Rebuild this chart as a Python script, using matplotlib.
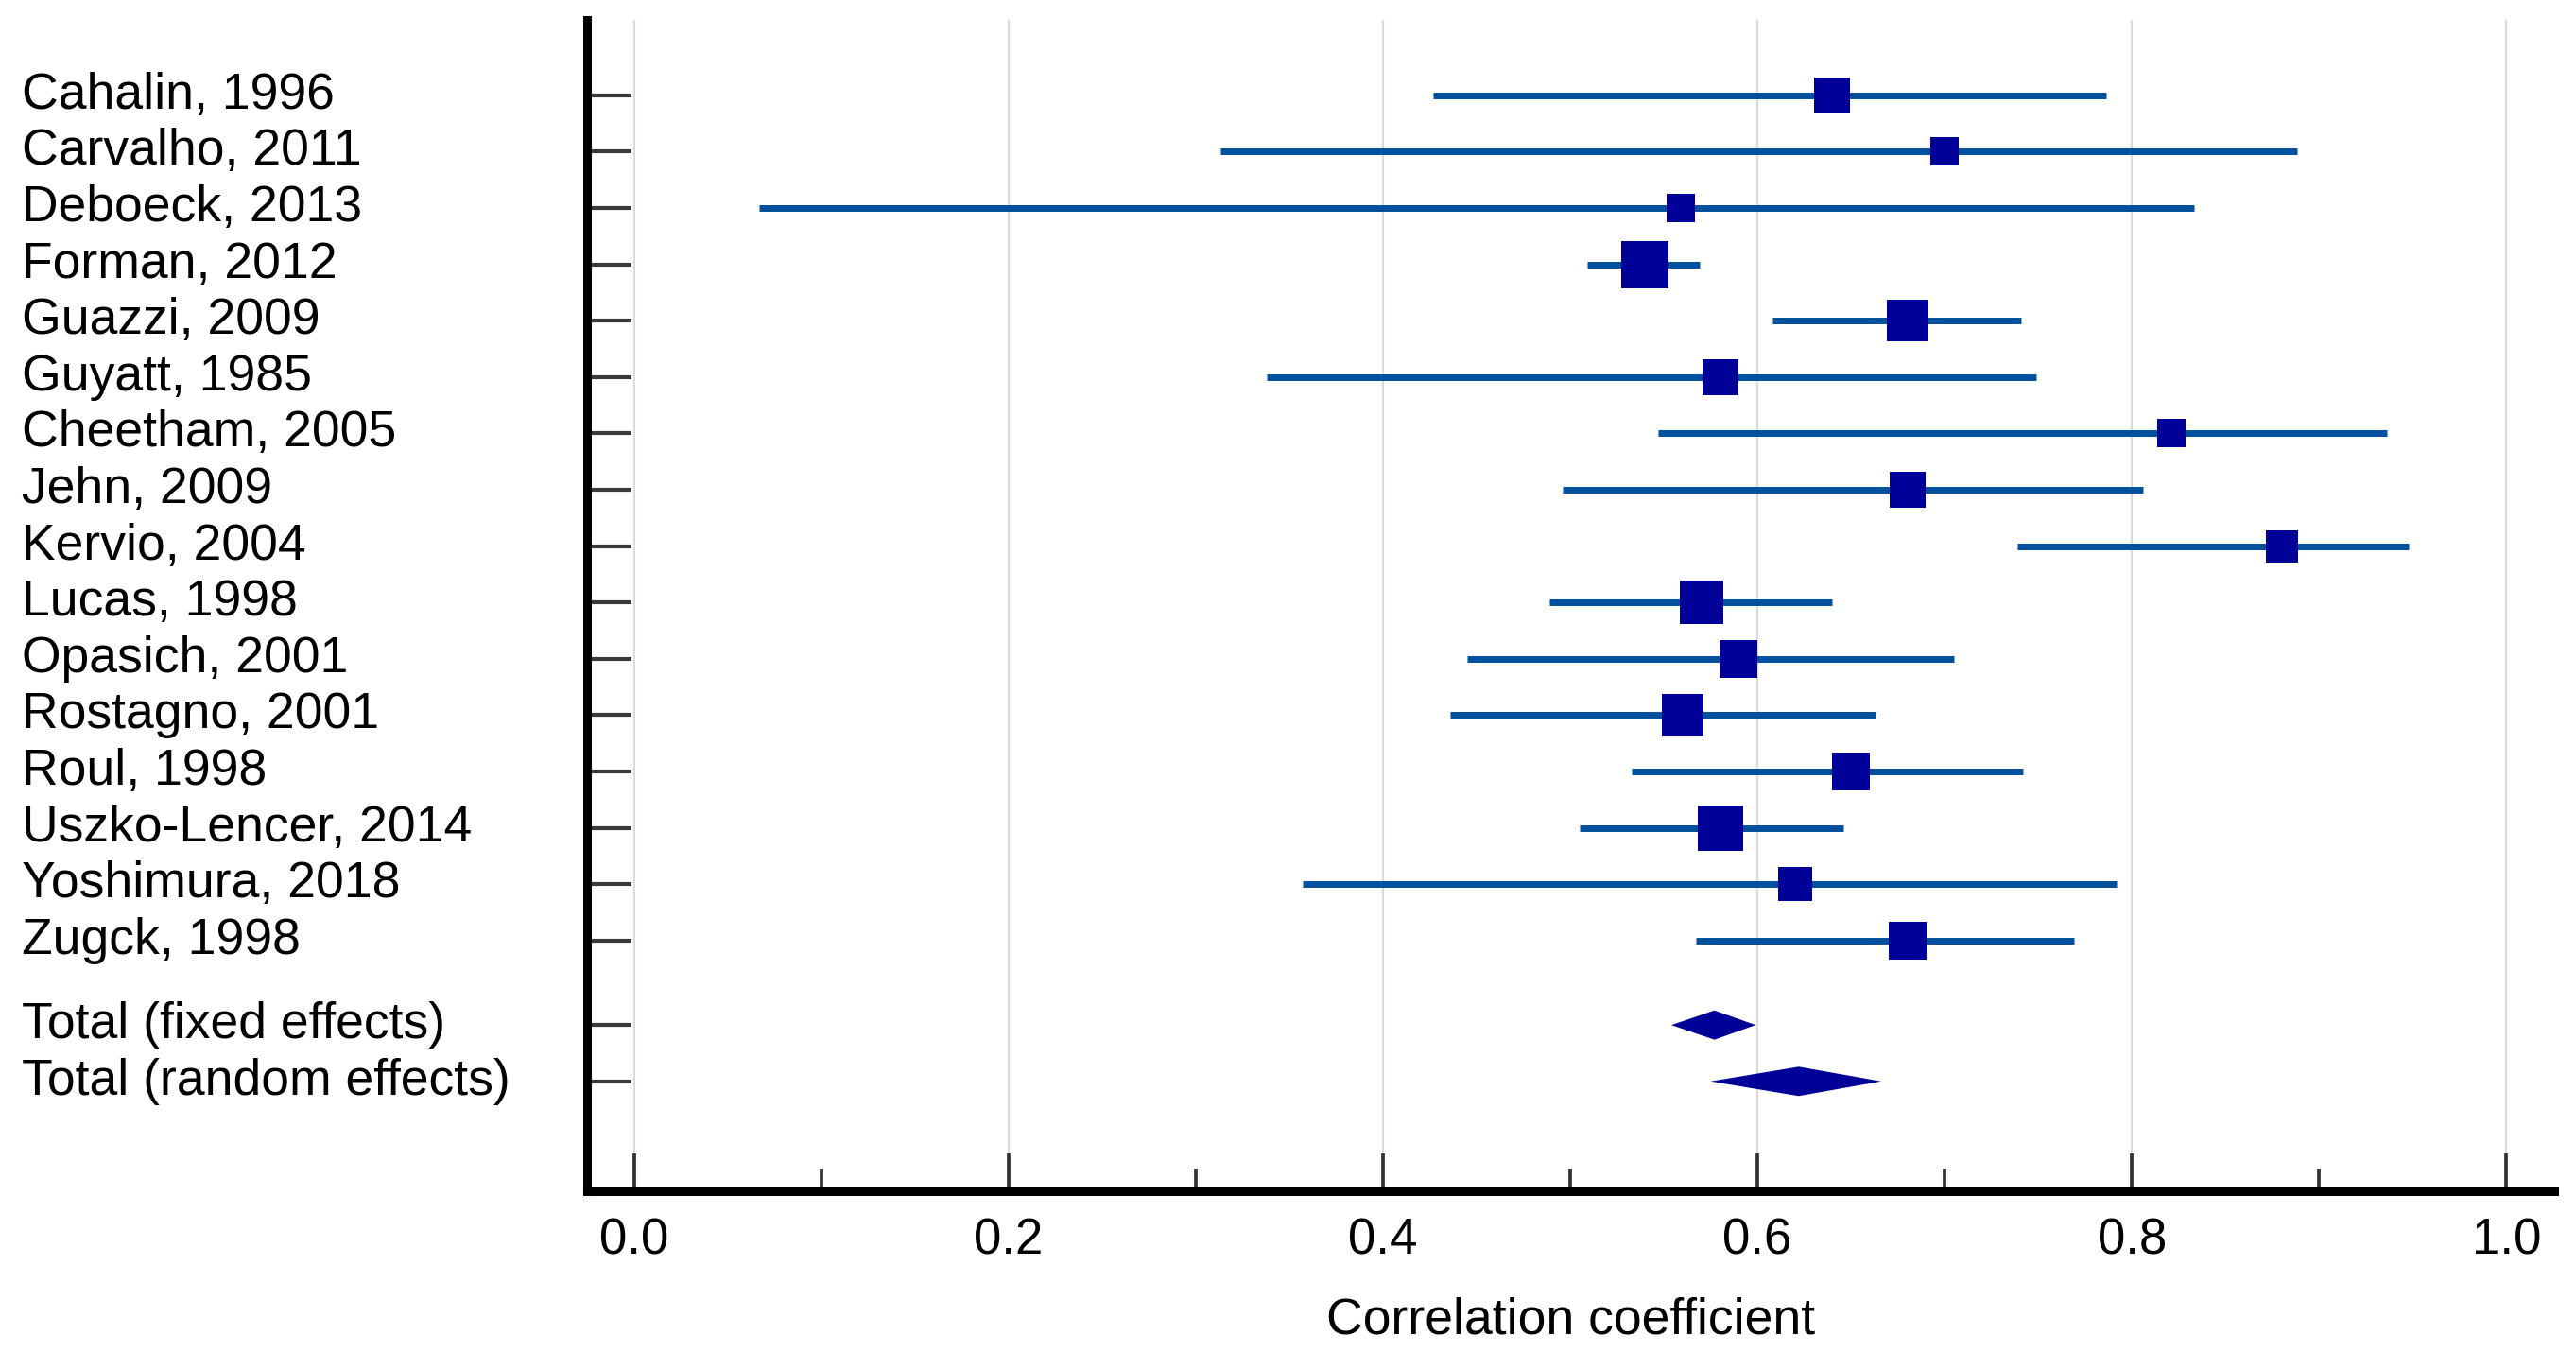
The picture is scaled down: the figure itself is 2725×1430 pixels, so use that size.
import numpy as np
import matplotlib
matplotlib.use("Agg")
import matplotlib.pyplot as plt
from matplotlib.transforms import blended_transform_factory

plt.rcParams["font.family"] = ["Liberation Sans", "DejaVu Sans"]

# ── data ──────────────────────────────────────────────────────────────────────
studies = [
    "Cahalin, 1996", "Carvalho, 2011", "Deboeck, 2013", "Forman, 2012",
    "Guazzi, 2009", "Guyatt, 1985", "Cheetham, 2005", "Jehn, 2009",
    "Kervio, 2004", "Lucas, 1998", "Opasich, 2001", "Rostagno, 2001",
    "Roul, 1998", "Uszko-Lencer, 2014", "Yoshimura, 2018", "Zugck, 1998",
]
est = [0.640, 0.700, 0.559, 0.540, 0.680, 0.580, 0.821, 0.680,
       0.880, 0.570, 0.590, 0.560, 0.650, 0.580, 0.620, 0.680]
ci_lo = [0.427, 0.313, 0.067, 0.509, 0.608, 0.338, 0.547, 0.496,
         0.739, 0.489, 0.445, 0.436, 0.533, 0.505, 0.357, 0.567]
ci_hi = [0.786, 0.888, 0.833, 0.569, 0.741, 0.749, 0.936, 0.806,
         0.948, 0.640, 0.705, 0.663, 0.742, 0.646, 0.792, 0.769]
# relative study weights (box area)
weights = [14.4, 9.6, 9.0, 25.0, 19.4, 13.7, 9.6, 13.7,
           11.6, 21.2, 16.0, 18.5, 16.0, 22.1, 12.3, 16.0]

pooled_names = ["Total (fixed effects)", "Total (random effects)"]
pooled_est = [0.577, 0.622]
pooled_lo = [0.554, 0.575]
pooled_hi = [0.599, 0.666]

xticks = [0.0, 0.2, 0.4, 0.6, 0.8, 1.0]
xminor = [0.1, 0.3, 0.5, 0.7, 0.9]

LINE_C = "#00509E"
BOX_C = "#000099"
FS = 38.5

# ── layout ───────────────────────────────────────────────────────────────────
fig = plt.figure(figsize=(27.25, 14.3), dpi=100)
ax = fig.add_axes([621.3 / 2725, 1 - 1260 / 1430,
                   (2702 - 621.3) / 2725, (1260 - 21) / 1430])

y_study = np.arange(len(studies))
y_pooled = np.array([len(studies) + 0.5, len(studies) + 1.5])

# CI lines + boxes
for y, e, lo, hi, w in zip(y_study, est, ci_lo, ci_hi, weights):
    ax.plot([lo, hi], [y, y], color=LINE_C, lw=5.0, solid_capstyle="butt",
            zorder=3)
    ax.plot(e, y, marker="s", color=BOX_C, markersize=7.2 * np.sqrt(w),
            markeredgewidth=0, linestyle="none", zorder=4)

# pooled diamonds
half_h = 0.26
for y, e, lo, hi in zip(y_pooled, pooled_est, pooled_lo, pooled_hi):
    ax.fill([lo, e, hi, e], [y, y - half_h, y, y + half_h],
            color=BOX_C, lw=0, zorder=4)

ax.set_xlim(-0.0249, 1.0255)
ax.set_ylim(19.45, -1.34)

ax.set_xticks(xticks)
ax.set_xticklabels([f"{t:.1f}" for t in xticks])
ax.set_xticks(xminor, minor=True)
ax.set_yticks(np.concatenate([y_study, y_pooled]))
ax.set_yticklabels([])

ax.tick_params(axis="x", which="major", direction="in", length=29, width=2.7,
               labelsize=38, pad=20, colors="#333333", labelcolor="black")
ax.tick_params(axis="x", which="minor", direction="in", length=17, width=2.7,
               colors="#333333")
ax.tick_params(axis="y", which="major", direction="in", length=34, width=3,
               colors="#3a3a3a")

ax.grid(axis="x", which="major", color="#dadada", lw=1.6, zorder=0)
ax.set_axisbelow(True)

for side in ("top", "right"):
    ax.spines[side].set_visible(False)
for side in ("left", "bottom"):
    ax.spines[side].set_linewidth(6.5)
    ax.spines[side].set_color("black")

ax.set_xlabel("Correlation coefficient", fontsize=FS, labelpad=24)

# row labels, left-aligned at the figure edge
tr = blended_transform_factory(fig.transFigure, ax.transData)
for y, name in zip(np.concatenate([y_study, y_pooled]), studies + pooled_names):
    ax.text(23 / 2725, y, name, transform=tr, ha="left", va="center",
            fontsize=FS, clip_on=False)

fig.savefig("out.png", dpi=100)
